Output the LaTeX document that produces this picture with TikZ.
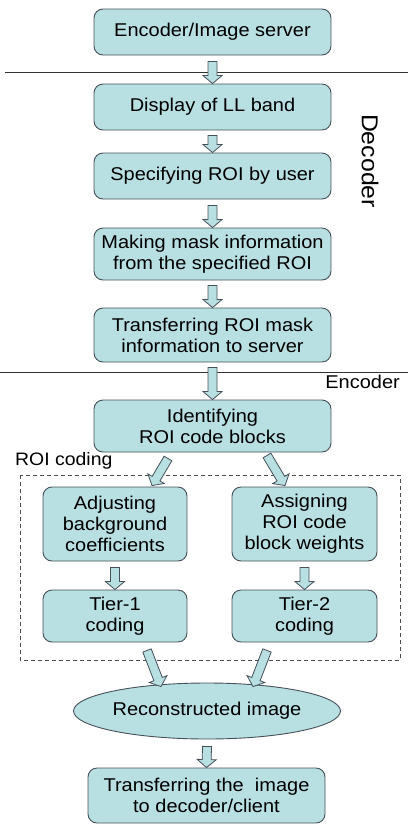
\documentclass[tikz,border=0pt]{standalone}
\usepackage{fontspec}
\setmainfont{Liberation Sans}[FakeStretch=1.08]
\usetikzlibrary{calc,shapes.geometric}
\definecolor{boxfill}{HTML}{B8DFE1}
\definecolor{boxline}{HTML}{46505A}
\tikzset{
  stepbox/.style={draw=boxline, fill=boxfill, line width=0.9pt, rounded corners=9pt,
    align=center, inner sep=0pt, font=\fontsize{18.5}{21}\selectfont},
  ellbox/.style={draw=boxline, fill=boxfill, line width=0.9pt, ellipse, inner sep=0pt,
    font=\fontsize{18.5}{21}\selectfont},
  blockarr/.style={draw=boxline, fill=boxfill, line width=0.8pt, line join=miter},
  lbl/.style={inner sep=0pt, font=\fontsize{18.5}{21}\selectfont}
}
\newcommand{\barr}[2]{%
  \path ($(#2)!8pt!(#1)$) coordinate (hb);
  \filldraw[blockarr] ($(#1)!4.5pt!90:(#2)$) -- ($(hb)!4.5pt!90:(#2)$) -- ($(hb)!9.5pt!90:(#2)$) -- (#2) -- ($(hb)!9.5pt!-90:(#2)$) -- ($(hb)!4.5pt!-90:(#2)$) -- ($(#1)!4.5pt!-90:(#2)$) -- cycle;}
\begin{document}
\begin{tikzpicture}[x=1pt,y=-1pt]
\useasboundingbox (0,0) rectangle (408,825);
% separator lines
\coordinate (l1a) at (5,72); \coordinate (l1b) at (408,72);
\coordinate (l2a) at (0,372); \coordinate (l2b) at (408,372);
\draw[line width=0.8pt, black!80] (l1a) -- (l1b);
\draw[line width=0.8pt, black!80] (l2a) -- (l2b);
% ROI coding dashed frame
\coordinate (fr1) at (20,475); \coordinate (fr2) at (400,660);
\draw[dashed, dash pattern=on 4pt off 3pt, line width=0.8pt, black!70] (fr1) rectangle (fr2);
% boxes
\node[stepbox, minimum width=237pt, minimum height=46pt] (b1) at (212.5,32) {Encoder/Image server};
\node[stepbox, minimum width=237pt, minimum height=46pt] (b2) at (212.5,107) {Display of LL band};
\node[stepbox, minimum width=237pt, minimum height=46pt] (b3) at (212.5,176) {Specifying ROI by user};
\node[stepbox, minimum width=237pt, minimum height=52pt] (b4) at (212.5,254) {Making mask information\\ from the specified ROI};
\node[stepbox, minimum width=237pt, minimum height=54pt] (b5) at (212.5,335) {Transferring ROI mask\\information to server};
\node[stepbox, minimum width=237pt, minimum height=52pt] (b6) at (212.5,426) {Identifying\\ROI code blocks};
\node[stepbox, minimum width=144pt, minimum height=74pt] (L1) at (115,524) {Adjusting\\background\\coefficients};
\node[stepbox, minimum width=145pt, minimum height=74pt] (R1) at (304.5,524) {Assigning\\ROI code\\block weights};
\node[stepbox, minimum width=144pt, minimum height=52pt] (L2) at (115,616) {Tier-1\\coding};
\node[stepbox, minimum width=145pt, minimum height=52pt] (R2) at (304.5,616) {Tier-2\\coding};
\node[ellbox, minimum width=226pt, minimum height=56pt] (el) at (207,711) {Reconstructed image};
\node[stepbox, minimum width=237pt, minimum height=55pt] (b7) at (206.5,795.5) {Transferring the \ image\\to decoder/client};
% labels
\node[lbl, font=\fontsize{23}{26}\selectfont, rotate=-90] (dec) at (370,161) {Decoder};
\node[lbl, anchor=east] (enc) at (400,382) {Encoder};
\node[lbl, anchor=west, font=\fontsize{18}{21}\selectfont] (roi) at (15,461) {ROI coding};
% arrows
\coordinate (s1) at ([yshift=-6pt]b1.south);
\coordinate (s2) at ([yshift=-5pt]b2.south);
\coordinate (s3) at ([yshift=-6pt]b3.south);
\coordinate (s4) at ([yshift=-5pt]b4.south);
\coordinate (s5) at ([yshift=-5pt]b5.south);
\coordinate (sL) at ([yshift=-6pt]L1.south);
\coordinate (sR) at ([yshift=-6pt]R1.south);
\coordinate (se) at ([yshift=-7pt]el.south);
\barr{s1}{b2.north}
\barr{s2}{b3.north}
\barr{s3}{b4.north}
\barr{s4}{b5.north}
\barr{s5}{b6.north}
\barr{sL}{L2.north}
\barr{sR}{R2.north}
\barr{se}{b7.north}
% diagonal arrows
\coordinate (d1s) at ([xshift=-44.5pt,yshift=-6pt]b6.south);
\coordinate (d1e) at ([xshift=37pt,yshift=1pt]L1.north);
\coordinate (d2s) at ([xshift=54.5pt,yshift=-3pt]b6.south);
\coordinate (d2e) at ([xshift=-19.5pt,yshift=1pt]R1.north);
\coordinate (d3s) at ([xshift=32pt,yshift=-8pt]L2.south);
\coordinate (d3e) at ([xshift=-46pt,yshift=-4pt]el.north);
\coordinate (d4s) at ([xshift=-37.5pt,yshift=-8pt]R2.south);
\coordinate (d4e) at ([xshift=46pt,yshift=-4pt]el.north);
\barr{d1s}{d1e}
\barr{d2s}{d2e}
\barr{d3s}{d3e}
\barr{d4s}{d4e}
\end{tikzpicture}
\end{document}
